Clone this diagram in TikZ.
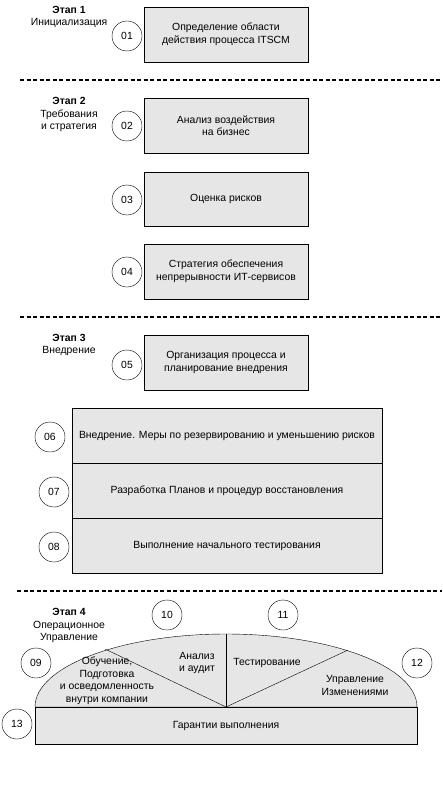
\documentclass[tikz,border=0pt]{standalone}
\usepackage{fontspec}
\setmainfont{Liberation Sans}
\definecolor{boxgray}{RGB}{230,230,230}
\tikzset{
  stepbox/.style={rectangle,draw,fill=boxgray,align=center,minimum width=164pt,minimum height=55pt,inner sep=1pt},
  widebox/.style={stepbox,minimum width=310pt},
  numcirc/.style={circle,draw,inner sep=0pt,minimum size=30pt},
  stagelabel/.style={align=center,inner sep=0pt},
  sepline/.style={line width=2pt,dash pattern=on 4pt off 2.5pt},
  domefill/.style={draw,fill=boxgray}
}
\begin{document}
\begin{tikzpicture}[x=1pt,y=-1pt,font=\fontsize{10.4}{12.5}\selectfont]
  \useasboundingbox (0,0) rectangle (442,789);

  % stage 1
  \node[stagelabel] (stage1) at (69,17) {\textbf{Этап 1}\\Инициализация};
  \node[stepbox] (box01) at (226,34.5) {Определение области\\действия процесса ITSCM};
  \node[numcirc] (num01) at (127,36) {01};
  \coordinate (sepAl) at (20,80);
  \coordinate (sepAr) at (442,80);
  \draw[sepline] (sepAl) -- (sepAr);

  % stage 2
  \node[stagelabel] (stage2) at (69,114.5) {\textbf{Этап 2}\\Требования\\и стратегия};
  \node[stepbox] (box02) at (226,125.5) {Анализ воздействия\\на бизнес};
  \node[numcirc] (num02) at (127,126) {02};
  \node[stepbox,minimum height=54pt] (box03) at (226,199) {Оценка рисков};
  \node[numcirc] (num03) at (127,200) {03};
  \node[stepbox] (box04) at (226,271.5) {Стратегия обеспечения\\непрерывности ИТ-сервисов};
  \node[numcirc] (num04) at (127,272) {04};
  \coordinate (sepBl) at (20,317);
  \coordinate (sepBr) at (442,317);
  \draw[sepline] (sepBl) -- (sepBr);

  % stage 3
  \node[stagelabel] (stage3) at (69,345) {\textbf{Этап 3}\\Внедрение};
  \node[stepbox] (box05) at (226,362.5) {Организация процесса и\\планирование внедрения};
  \node[numcirc] (num05) at (127,365) {05};
  \node[widebox] (box06) at (227,435.5) {Внедрение. Меры по резервированию и уменьшению рисков};
  \node[numcirc] (num06) at (50,437) {06};
  \node[widebox] (box07) at (227,490.5) {Разработка Планов и процедур восстановления};
  \node[numcirc] (num07) at (54,492) {07};
  \node[widebox] (box08) at (227,545.5) {Выполнение начального тестирования};
  \node[numcirc] (num08) at (54,547) {08};
  \coordinate (sepCl) at (17,591);
  \coordinate (sepCr) at (442,591);
  \draw[sepline] (sepCl) -- (sepCr);

  % stage 4
  \node[stagelabel] (stage4) at (69,625.5) {\textbf{Этап 4}\\Операционное\\Управление};
  \coordinate (domeL) at (35,707);
  \coordinate (hub) at (226,707);
  \coordinate (cutL) at (105,649);
  \coordinate (cutM) at (226,634);
  \coordinate (cutR) at (348,650);
  \draw[domefill] (domeL) arc[start angle=180,end angle=0,x radius=191pt,y radius=73pt] -- cycle;
  \draw (hub) -- (cutL);
  \draw (hub) -- (cutM);
  \draw (hub) -- (cutR);
  \node[align=center] (train) at (107,681) {Обучение,\\Подготовка\\и осведомленность\\внутри компании};
  \node[align=center] (audit) at (197,663) {Анализ\\и аудит};
  \node (testing) at (267,663) {Тестирование};
  \node[align=center] (change) at (355,685.5) {Управление\\Изменениями};
  \node[rectangle,draw,fill=boxgray,minimum width=382pt,minimum height=37pt] (box13) at (226,725.5) {Гарантии выполнения};
  \node[numcirc] (num09) at (36,663) {09};
  \node[numcirc] (num10) at (167,615) {10};
  \node[numcirc] (num11) at (283,615) {11};
  \node[numcirc] (num12) at (417,663) {12};
  \node[numcirc] (num13) at (17,724) {13};
\end{tikzpicture}
\end{document}
